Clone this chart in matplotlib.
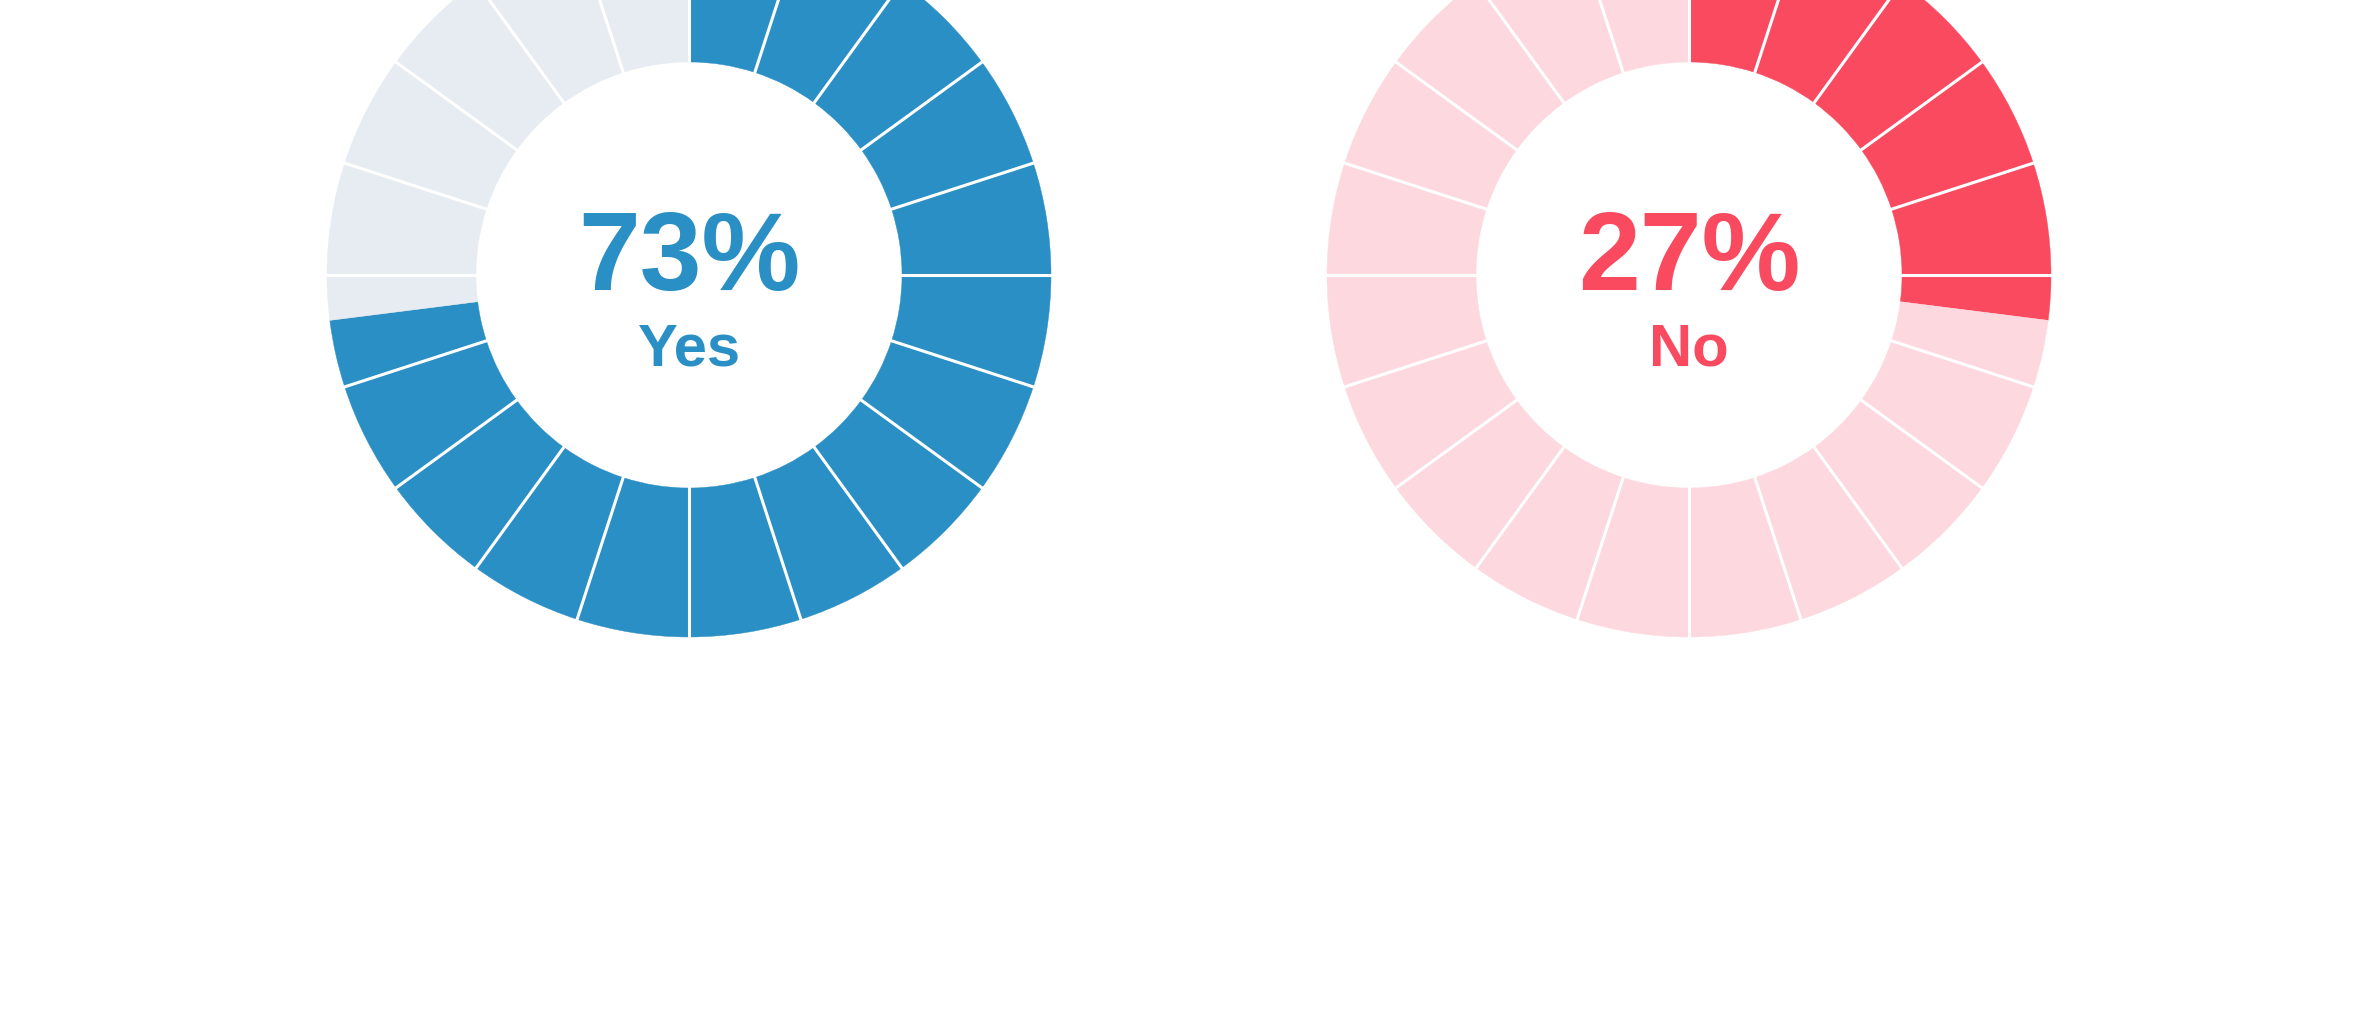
"""Two segmented donut gauges: share of Yes / No answers."""
import numpy as np
import matplotlib
matplotlib.use("Agg")
import matplotlib.pyplot as plt
from matplotlib.patches import Wedge

# ---- data ----
labels = ["Yes", "No"]
values = [73, 27]  # percent
fill_colors = ["#2A8FC4", "#F94A60"]
track_colors = ["#E7ECF2", "#FDD9DF"]
n_segments = 20

# ---- layout (pixels, figure is 2354 x 1034) ----
W, H = 2354, 1034
centers_x = [689, 1689]
center_y = 275
r_out, r_in = 362, 213

fig = plt.figure(figsize=(W / 100, H / 100), dpi=100)
ax = fig.add_axes([0, 0, 1, 1])
ax.set_xlim(0, W)
ax.set_ylim(H, 0)
ax.set_aspect("equal")
ax.axis("off")


def donut(cx, cy, pct, fill, track):
    seg = 360.0 / n_segments
    stop = 360.0 * pct / 100.0  # clockwise from 12 o'clock
    for k in range(n_segments):
        a0, a1 = k * seg, (k + 1) * seg
        # y axis is inverted, so data angles run clockwise on screen
        if a1 <= stop:
            parts = [(a0, a1, fill)]
        elif a0 >= stop:
            parts = [(a0, a1, track)]
        else:
            parts = [(a0, stop, fill), (stop, a1, track)]
        for b0, b1, c in parts:
            ax.add_patch(Wedge((cx, cy), r_out, b0 - 90, b1 - 90,
                               width=r_out - r_in, facecolor=c,
                               edgecolor=c, linewidth=0.3))
    # white gaps between segments
    for k in range(n_segments):
        t = np.deg2rad(k * seg - 90)
        rr = np.array([r_in - 2, r_out + 2])
        ax.plot(cx + rr * np.cos(t), cy + rr * np.sin(t),
                color="white", lw=2.2, solid_capstyle="butt")


for cx, lab, v, fc, tc in zip(centers_x, labels, values, fill_colors, track_colors):
    donut(cx, center_y, v, fc, tc)
    ax.text(cx, 290, f"{v}%", ha="center", va="baseline", color=fc,
            fontsize=80, fontweight="bold", family="Liberation Sans")
    ax.text(cx, 366, lab, ha="center", va="baseline", color=fc,
            fontsize=43, fontweight="bold", family="Liberation Sans")

fig.savefig("out.png", dpi=100, facecolor="white")
